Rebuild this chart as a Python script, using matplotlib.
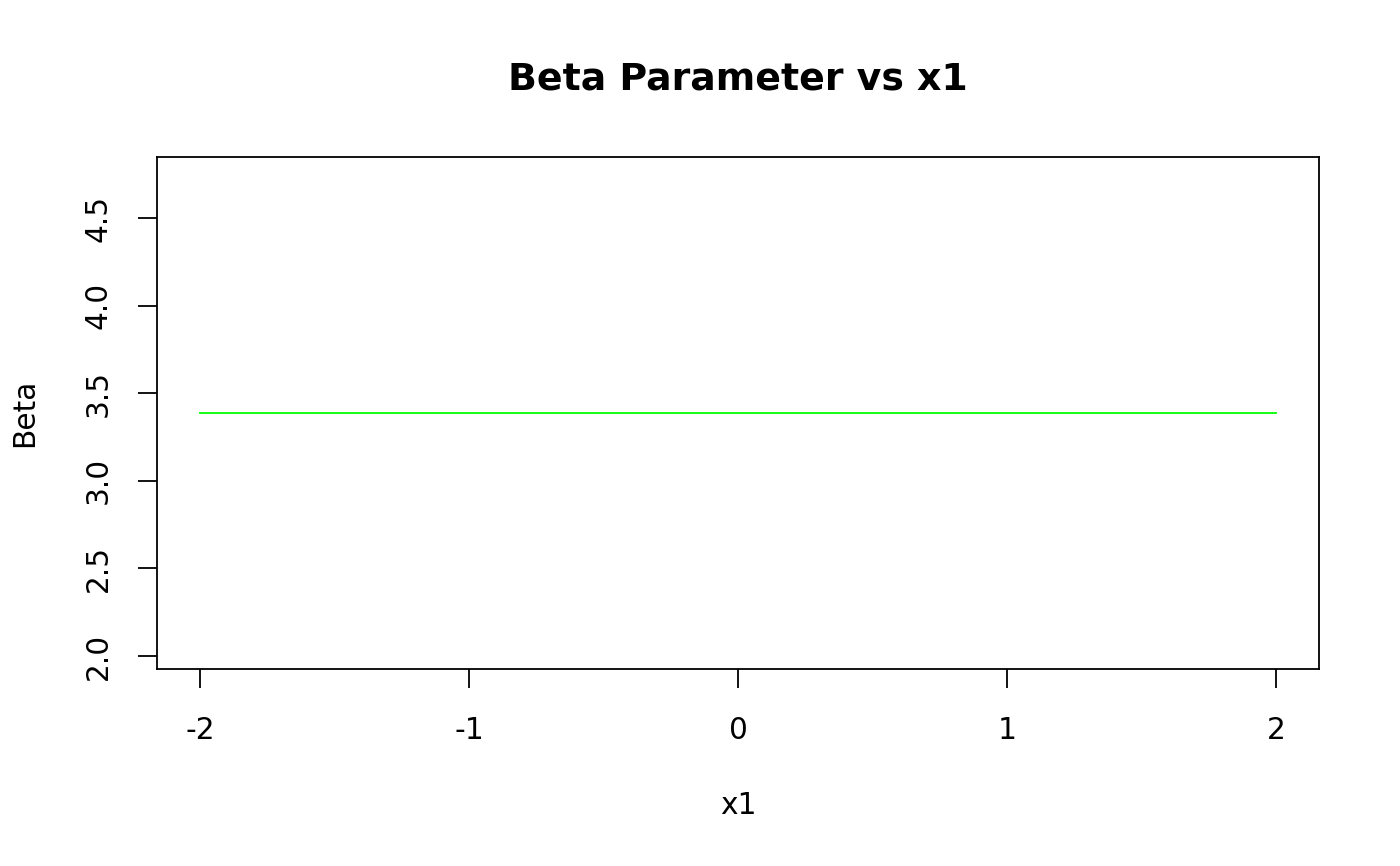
import matplotlib
matplotlib.use("Agg")
from matplotlib import pyplot as plt

# Data
x1 = [-2.0, -1.0, 0.0, 1.0, 2.0]
beta = [3.387, 3.387, 3.387, 3.387, 3.387]

x_ticks = [-2, -1, 0, 1, 2]
x_tick_labels = ["-2", "-1", "0", "1", "2"]
y_ticks = [2.0, 2.5, 3.0, 3.5, 4.0, 4.5]
y_tick_labels = ["2.0", "2.5", "3.0", "3.5", "4.0", "4.5"]

# Settings
DPI = 100
TICK_FS = 21.3
TITLE_FS = 27.3

plt.rcParams["font.family"] = ["DejaVu Sans"]

fig = plt.figure(figsize=(14, 8.66), dpi=DPI)
ax = fig.add_axes([157 / 1400, 1 - 669 / 866, 1162 / 1400, 512 / 866])

ax.plot(x1, beta, color="#00ff00", linewidth=1.3)

ax.set_xlim(-2.16, 2.16)
ax.set_ylim(1.926, 4.848)

ax.set_xticks(x_ticks)
ax.set_xticklabels(x_tick_labels)
ax.set_yticks(y_ticks)
ax.set_yticklabels(y_tick_labels, rotation=90, va="center")

ax.tick_params(axis="both", direction="out", length=14, width=1.3,
               labelsize=TICK_FS, color="black")
ax.tick_params(axis="x", pad=19.5)
ax.tick_params(axis="y", pad=18)

for s in ax.spines.values():
    s.set_linewidth(1.3)
    s.set_color("black")

fig.text(738 / 1400, 1 - 80 / 866, "Beta Parameter vs x1", ha="center",
         va="center", fontsize=TITLE_FS, fontweight="bold")
fig.text(738 / 1400, 1 - 805 / 866, "x1", ha="center", va="center",
         fontsize=TICK_FS)
fig.text(25 / 1400, 1 - 413 / 866, "Beta", ha="center", va="center",
         fontsize=TICK_FS, rotation=90)

fig.savefig("out.png", dpi=DPI, facecolor="white")
